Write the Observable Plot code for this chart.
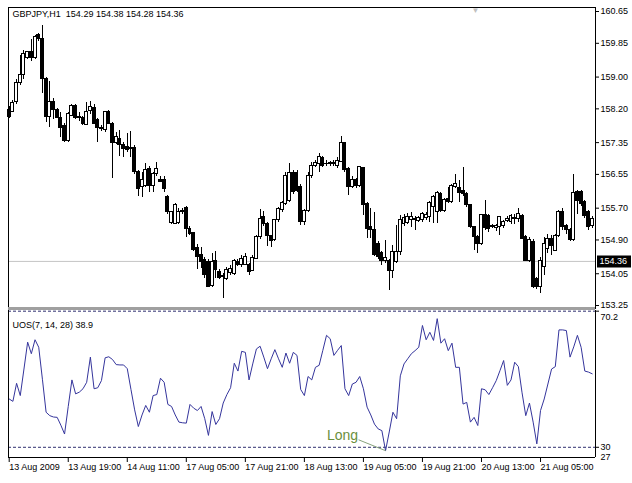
<!DOCTYPE html>
<html><head><meta charset="utf-8">
<script src="https://cdn.jsdelivr.net/npm/d3@7"></script>
<script src="https://cdn.jsdelivr.net/npm/@observablehq/plot@0.6"></script>
<style>
html,body{margin:0;padding:0;background:#fff;}
#chart{width:632px;height:483px;position:relative;overflow:hidden;background:#fff;}
#chart svg{display:block;}
</style></head><body><div id="chart"></div>
<script>
// ---- data ----
const symbolName = "GBPJPY,H1";
const lastBar = [154.29, 154.38, 154.28, 154.36];
const bid = 154.36;
const opens = [158.16,158.13,158.36,158.85,159.04,159.49,159.62,159.49,160.05,159.95,
 158.96,157.99,158.36,158.16,157.98,157.78,157.40,158.03,158.28,157.98,
 157.96,157.80,158.15,158.23,157.91,157.70,157.66,158.11,157.83,157.33,
 157.45,157.30,157.24,157.20,157.22,156.61,156.23,156.27,156.69,156.27,
 156.55,156.41,156.40,155.99,155.32,155.31,155.32,155.60,155.71,155.18,
 155.07,154.69,154.51,154.40,154.34,153.73,154.36,154.09,153.98,153.92,
 154.06,154.05,154.34,154.26,154.28,154.26,154.13,154.42,154.97,155.47,
 155.29,154.99,154.90,155.39,155.66,155.81,155.89,156.58,156.58,156.23,
 155.35,155.64,156.52,156.77,156.82,156.97,156.80,156.83,156.80,156.77,
 156.86,157.34,156.69,156.23,156.41,156.27,156.71,155.81,155.22,155.16,
 154.80,154.57,154.38,154.38,154.13,154.34,154.59,155.31,155.32,155.41,
 155.43,155.37,155.41,155.46,155.49,155.74,155.60,156.06,155.64,155.94,
 155.85,156.23,156.21,156.13,156.06,155.77,155.22,154.97,154.80,155.52,
 155.51,155.22,155.20,155.22,155.26,155.38,155.35,155.43,155.43,155.51,
 154.97,154.38,154.84,153.92,153.71,154.22,154.68,154.93,154.63,155.00,
 155.60,155.26,155.14,154.89,156.10,156.10,155.85,155.60,155.26];
const highs = [158.25,158.40,158.95,159.54,159.67,159.65,159.95,160.05,160.10,160.30,
 159.00,158.89,158.45,158.20,158.11,157.83,158.10,158.30,158.30,158.10,
 158.00,158.36,158.38,158.30,157.95,157.78,158.13,158.15,157.85,157.60,
 157.65,157.35,157.58,157.63,157.28,156.65,156.60,156.82,156.75,156.60,
 156.85,156.50,156.50,156.02,155.62,155.82,155.70,155.70,155.75,155.25,
 155.10,154.79,154.72,154.45,154.40,154.55,154.60,154.15,154.05,154.20,
 154.25,154.42,154.40,154.50,154.55,154.30,154.50,155.00,155.66,155.62,
 155.35,155.00,155.42,155.72,155.88,156.60,156.82,156.65,156.66,156.30,
 155.66,156.60,156.85,156.90,157.07,157.00,156.90,156.88,156.90,156.98,
 157.50,157.36,156.72,156.50,156.45,156.76,156.73,155.85,155.68,155.60,
 154.85,154.60,154.89,154.42,154.76,155.26,155.52,155.55,155.56,155.60,
 155.48,155.50,155.60,155.60,155.87,156.02,156.12,156.10,155.95,156.23,
 156.30,156.56,156.40,156.73,156.10,155.80,155.25,155.00,155.55,155.89,
 155.55,155.30,155.30,155.50,155.40,155.48,155.55,155.55,155.70,155.55,
 155.00,154.95,154.90,153.95,154.45,154.95,155.05,155.00,155.05,155.65,
 155.70,155.30,155.18,156.56,156.15,156.15,155.90,155.65,155.50];
const lows = [157.95,158.10,158.30,158.80,158.95,159.45,159.40,159.45,159.90,158.59,
 157.85,157.74,157.92,157.95,157.48,157.35,157.35,158.00,157.92,157.88,
 157.78,157.78,158.05,157.80,157.35,157.62,157.60,157.80,156.45,157.30,
 157.00,156.98,157.10,156.98,156.55,156.00,155.97,156.22,156.10,156.10,
 156.50,156.35,156.10,155.55,155.28,155.28,155.28,155.55,154.96,155.00,
 154.60,154.16,154.17,153.92,153.70,153.70,153.92,153.90,153.42,153.88,
 154.00,154.00,154.22,154.20,154.25,154.00,154.10,154.40,154.90,155.25,
 154.74,154.72,154.85,155.35,155.60,155.78,155.85,156.05,156.10,155.26,
 155.26,155.60,156.45,156.72,156.61,156.72,156.75,156.76,156.76,156.70,
 156.84,156.60,156.02,156.20,156.20,156.22,155.52,154.93,154.93,154.48,
 154.42,154.26,154.30,153.63,153.92,154.30,154.50,155.25,155.28,155.22,
 155.14,155.33,155.35,155.40,155.35,155.32,155.31,155.60,155.60,155.82,
 155.82,156.20,155.85,156.00,155.72,155.20,154.63,154.55,154.75,155.15,
 155.10,155.18,155.12,155.00,155.20,155.33,155.30,155.30,155.35,154.90,
 154.35,154.33,153.68,153.65,153.54,154.00,154.55,154.50,154.60,154.95,
 155.15,155.05,154.85,154.85,155.55,155.75,155.45,155.15,155.20];
const closes = [158.00,158.35,158.86,159.04,159.59,159.62,159.47,160.02,159.95,158.96,
 157.99,158.36,158.16,157.98,157.73,157.40,158.06,158.28,157.96,158.00,
 157.83,158.13,158.25,157.83,157.71,157.72,158.11,157.83,157.33,157.48,
 157.28,157.20,157.17,157.22,156.61,156.19,156.41,156.65,156.27,156.55,
 156.69,156.37,156.19,155.60,155.60,155.77,155.60,155.62,155.18,155.05,
 154.65,154.47,154.34,154.03,153.71,154.34,154.15,153.95,154.00,154.15,
 154.17,154.38,154.28,154.42,154.47,154.09,154.45,154.97,155.43,155.29,
 154.99,154.87,155.39,155.68,155.83,156.52,156.58,156.10,156.14,155.35,
 155.64,156.52,156.77,156.83,156.98,156.77,156.82,156.80,156.84,156.90,
 157.34,156.66,156.23,156.41,156.27,156.73,155.77,155.18,155.14,154.51,
 154.48,154.38,154.45,154.13,154.59,154.59,155.39,155.46,155.49,155.47,
 155.39,155.46,155.56,155.54,155.83,155.98,156.08,155.64,155.91,155.85,
 156.27,156.30,156.08,156.06,155.77,155.22,154.97,154.80,155.52,155.20,
 155.18,155.26,155.26,155.47,155.35,155.43,155.51,155.46,155.56,154.93,
 154.38,154.89,153.71,153.71,154.38,154.80,154.93,154.75,155.01,155.60,
 155.22,155.14,154.89,156.08,155.89,155.81,155.51,155.22,155.43];
const uos = [44.2,43.5,48.8,45.2,53.0,60.9,57.5,61.6,59.4,50.0,
 40.3,39.3,38.9,38.8,36.5,33.9,42.0,49.8,45.7,46.2,
 47.2,49.1,56.5,47.2,47.5,49.6,56.3,56.6,55.8,54.3,
 54.2,54.2,53.1,47.0,41.0,36.1,39.5,42.3,40.3,45.2,
 45.5,50.3,49.1,42.6,42.0,39.5,37.4,37.2,37.1,42.6,
 41.5,40.8,42.0,38.4,33.5,40.5,36.7,38.4,43.0,45.5,
 47.5,54.7,52.4,58.2,57.9,49.8,54.5,58.9,59.7,56.5,
 53.1,56.0,58.7,56.0,53.5,57.7,54.7,57.9,57.0,47.0,
 45.2,50.8,49.8,53.5,54.1,58.5,62.9,61.9,57.0,58.5,
 59.9,47.2,45.2,48.6,49.1,50.8,47.2,41.8,39.5,36.8,
 35.4,34.9,29.0,34.5,40.3,38.4,51.0,54.5,56.0,57.5,
 58.4,59.4,65.8,61.6,63.8,61.4,67.8,60.6,61.9,58.4,
 60.6,53.5,53.5,42.7,43.2,37.4,38.8,36.4,47.2,46.9,
 45.5,47.5,49.6,52.5,55.5,48.2,49.8,55.0,53.7,46.0,
 39.3,43.0,37.4,31.0,40.8,44.2,48.6,53.0,53.7,64.5,
 64.5,64.3,56.5,59.5,62.9,59.4,52.4,52.1,51.6];
const uosName = "UOS(7, 14, 28)";
const uosCurrent = 38.9;
const uosLevels = [70, 30];
const uosRange = [27, 70.2];
const priceTicks = [160.65, 159.85, 159.00, 158.20, 157.35, 156.55, 155.70, 154.90, 154.05, 153.25];
const priceRange = [153.175, 160.751];
const timeTickIndex = [0, 16, 32, 48, 64, 80, 96, 112, 128, 144];
const timeTickLabels = ["13 Aug 2009", "13 Aug 19:00", "14 Aug 11:00", "17 Aug 05:00", "17 Aug 21:00",
  "18 Aug 13:00", "19 Aug 05:00", "19 Aug 21:00", "20 Aug 13:00", "21 Aug 05:00"];
const signalIndex = 102;
const signalLabel = "Long";

// ---- chart ----
const FONT = "'Liberation Sans', Arial, sans-serif";
const W = 632;
const bars = opens.map((o, i) => ({i, o, h: highs[i], l: lows[i], c: closes[i]}));
const xDomain = [-0.19, bars.length - 0.1];
const baseStyle = {fontFamily: FONT, fontSize: "9px", color: "black", background: "white", overflow: "visible"};
const boxSymbol = {draw(ctx) { ctx.rect(-17, -6, 34, 12); }};

const main = Plot.plot({
  width: W, height: 310,
  marginLeft: 8, marginRight: 37, marginTop: 7, marginBottom: 2,
  style: baseStyle,
  x: {domain: xDomain, axis: null},
  y: {domain: priceRange, axis: "right", ticks: priceTicks, tickFormat: d => d.toFixed(2),
      tickSize: 3, tickPadding: 2, label: null},
  marks: [
    Plot.ruleY([bid], {stroke: "#c4c4c4"}),
    Plot.ruleX(bars, {x: "i", y1: "l", y2: "h", stroke: "black", shapeRendering: "crispEdges"}),
    Plot.rect(bars, {x1: d => d.i - 0.4, x2: d => d.i + 0.4, y1: "o", y2: "c",
      fill: d => d.c >= d.o ? "white" : "black", stroke: "black", shapeRendering: "crispEdges"}),
    Plot.frame({stroke: "black"}),
    Plot.ruleY([priceRange[0]], {stroke: "#a0a0a0", strokeWidth: 3}),
    Plot.text([symbolName + "\u00a0\u00a0" + lastBar.map(d => d.toFixed(2)).join(" ")],
      {text: d => d, frameAnchor: "top-left", dx: 4, dy: 7, textAnchor: "start", lineAnchor: "middle", fill: "black"}),
    Plot.text(["\u25BC"], {text: d => d, frameAnchor: "top-left", dx: 463, dy: 0, lineAnchor: "top", fill: "#c0c0c0", fontSize: 8}),
    Plot.dot([bid], {x: () => xDomain[1], y: d => d, symbol: boxSymbol, fill: "black", stroke: null, r: 3, dx: 18.5}),
    Plot.text([bid], {x: () => xDomain[1], y: d => d, text: d => d.toFixed(2), fill: "white", dx: 4, textAnchor: "start"})
  ]
});

const osc = Plot.plot({
  width: W, height: 173,
  marginLeft: 8, marginRight: 37, marginTop: 0, marginBottom: 26,
  style: baseStyle,
  x: {domain: xDomain},
  y: {domain: uosRange},
  marks: [
    Plot.ruleY(uosLevels, {stroke: "#2e2e6e", strokeDasharray: "3,2"}),
    Plot.line(uos, {x: (d, i) => i, y: d => d, stroke: "#35359c", strokeWidth: 1}),
    Plot.ruleX([xDomain[0], xDomain[1]], {stroke: "black"}),
    Plot.ruleY([uosRange[0]], {stroke: "black"}),
    Plot.axisX(timeTickIndex, {anchor: "bottom", tickSize: 5, tickPadding: 1, textAnchor: "start",
      tickFormat: d => timeTickLabels[timeTickIndex.indexOf(d)], label: null}),
    Plot.axisY(uosLevels, {anchor: "right", tickSize: 3, tickPadding: 2, label: null,
      tickFormat: d => d === uosLevels[1] ? String(d) : ""}),
    Plot.text([uosRange[1]], {x: () => xDomain[1], y: d => d, text: d => String(d), dx: 5, dy: 6.5, textAnchor: "start"}),
    Plot.text([uosRange[0]], {x: () => xDomain[1], y: d => d, text: d => String(d), dx: 5, dy: -0.5, textAnchor: "start"}),
    Plot.text([uosName + " " + uosCurrent], {text: d => d, frameAnchor: "top-left", dx: 4, dy: 11, textAnchor: "start"}),
    Plot.link([signalIndex], {x1: d => d, y1: d => uos[d], x2: d => d - 7.3, y2: d => uos[d] + 3.2, stroke: "#86a27a"}),
    Plot.text([signalIndex], {x: d => d, y: d => uos[d], text: () => signalLabel, dx: -43, dy: -15,
      fill: "#6a8f3c", fontSize: 14})
  ]
});

const el = document.getElementById("chart");
el.appendChild(main);
el.appendChild(osc);
</script>
</body></html>
